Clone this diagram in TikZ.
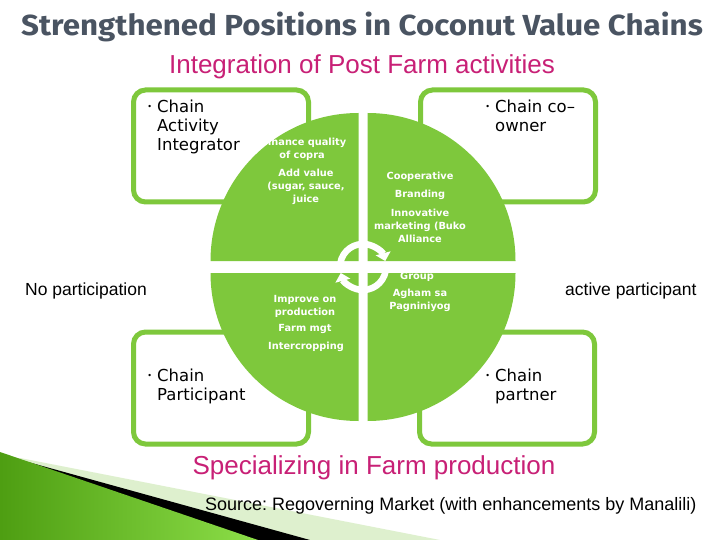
\documentclass[tikz,border=0pt]{standalone}
\usepackage{fontspec}
\setmainfont{Liberation Sans}
\newfontfamily\titlefont{Fira Sans}
\newfontfamily\boxfont{DejaVu Sans}
\usetikzlibrary{arrows.meta}
\frenchspacing
\definecolor{sagreen}{RGB}{126,200,60}
\definecolor{sapink}{RGB}{200,32,118}
\definecolor{satitle}{RGB}{74,84,98}
\definecolor{sapale}{RGB}{222,240,206}
\definecolor{sadark}{RGB}{78,158,18}
\definecolor{salime}{RGB}{140,222,72}
\tikzset{
  cbox/.style={draw=sagreen, line width=5pt, fill=white, rounded corners=12pt,
    minimum width=175pt, minimum height=112pt, inner sep=0},
  quad/.style={fill=sagreen},
  qtext/.style={text=white, align=center, inner sep=0,
    font=\boxfont\bfseries\fontsize{9.8}{13}\selectfont},
  btext/.style={anchor=north west, align=left, inner sep=0,
    font=\boxfont\fontsize{16.5}{19}\selectfont},
  olabel/.style={anchor=west, inner sep=0, font=\fontsize{17.5}{20}\selectfont},
  ptext/.style={text=sapink, inner sep=0, font=\fontsize{26}{30}\selectfont}
}
\newcommand{\sabul}{\llap{\raisebox{3.5pt}{\fontsize{8}{8}\selectfont\textbullet}\hspace{5pt}}}
\begin{document}
\begin{tikzpicture}[x=1pt,y=-1pt]
\useasboundingbox (0,0) rectangle (720,540);
\fill[white] (0,0) rectangle (720,540);

% bottom-left decoration
\fill[sapale] (20,458) -- (440,540) -- (0,540) -- cycle;
\fill[black] (28,462) -- (310,540) -- (0,540) -- cycle;
\shade[left color=sadark, right color=salime] (0,452) -- (258,540) -- (0,540) -- cycle;

% corner boxes
\node[cbox] (tlbox) at (221,146) {};
\node[cbox] (trbox) at (508,146) {};
\node[cbox] (blbox) at (221,388) {};
\node[cbox] (brbox) at (507,388) {};

% quadrants
\fill[quad] (358.5,261) -- ++(-148,0) arc[start angle=180, end angle=270, radius=148] -- cycle;
\fill[quad] (367.5,261) -- ++(0,-148) arc[start angle=270, end angle=360, radius=148] -- cycle;
\fill[quad] (367.5,273) -- ++(148,0) arc[start angle=0, end angle=90, radius=148] -- cycle;
\fill[quad] (358.5,273) -- ++(0,148) arc[start angle=90, end angle=180, radius=148] -- cycle;

% central cycle arrows
\coordinate (cc) at (363,267);
\draw[white, line width=6.5pt, -{Triangle[width=15pt,length=8pt]}]
  (cc) ++(190:23) arc[start angle=190, end angle=345, radius=23];
\draw[white, line width=6.5pt, -{Triangle[width=15pt,length=8pt]}]
  (cc) ++(10:23) arc[start angle=10, end angle=165, radius=23];

% quadrant texts
\node[qtext] (q1a) at (302,149.5) {Enhance quality\\of copra};
\node[qtext] (q1b) at (306,187) {Add value\\(sugar, sauce,\\juice};
\node[qtext] (q2a) at (420,177) {Cooperative};
\node[qtext] (q2b) at (420,195) {Branding};
\node[qtext] (q2c) at (420,225.5) {Innovative\\marketing (Buko\\Alliance};
\node[qtext] (q2d) at (417,277) {Group};
\node[qtext] (q2e) at (420,300.5) {Agham sa\\Pagniniyog};
\node[qtext] (q3a) at (305,306) {Improve on\\production};
\node[qtext] (q3b) at (305,329) {Farm mgt};
\node[qtext] (q3c) at (306,347) {Intercropping};

% box texts
\node[btext] (t1) at (157,100) {\sabul Chain\\Activity\\Integrator};
\node[btext] (t2) at (495,100) {\sabul Chain co–\\owner};
\node[btext] (t3) at (157,369) {\sabul Chain\\Participant};
\node[btext] (t4) at (495,369) {\sabul Chain\\partner};

% outer labels
\node[olabel] (nop) at (25,291) {No participation};
\node[olabel] (act) at (565,291) {active participant};

% headings
\node[inner sep=0, text=satitle, font=\titlefont\bfseries\fontsize{29}{33}\selectfont] (title) at (362,27) {\scalebox{1.08}[1]{Strengthened Positions in Coconut Value Chains}};
\node[ptext] (top) at (362,67) {Integration of Post Farm activities};
\node[ptext] (bottom) at (374,468) {Specializing in Farm production};
\node[anchor=west, inner sep=0, font=\fontsize{18}{21}\selectfont] (src) at (205,506) {Source: Regoverning Market (with enhancements by Manalili)};
\end{tikzpicture}
\end{document}
